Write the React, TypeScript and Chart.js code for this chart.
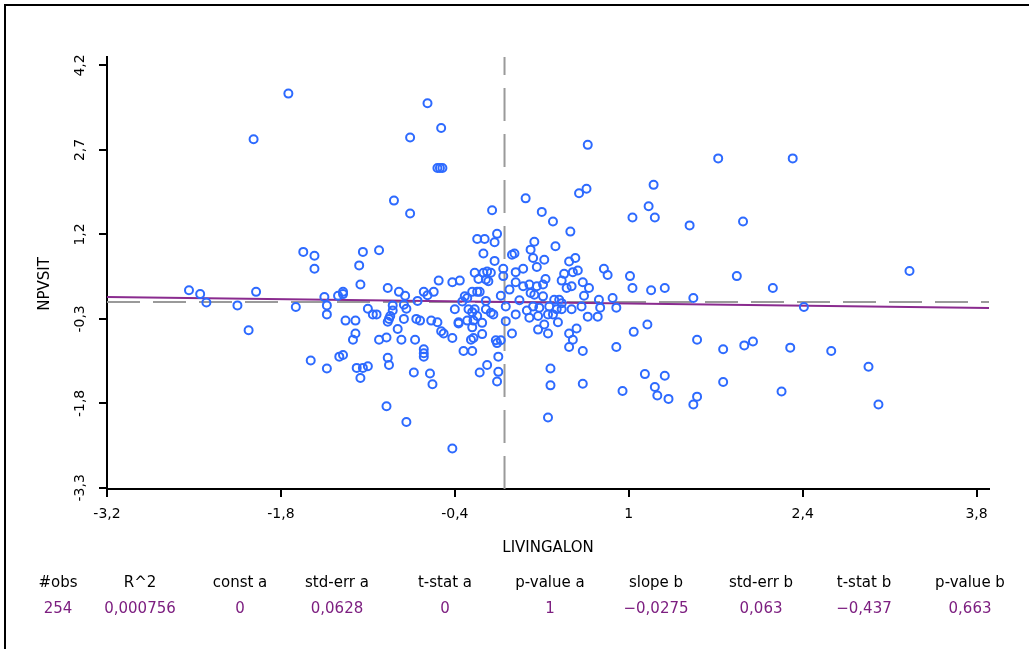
import React, { useEffect, useRef } from "react";
import { Chart, registerables } from "chart.js";

Chart.register(...registerables);

// LIVINGALON (x) and NPVSIT (y), standardized observations
const livingAlon = [
  -1.74, -2.02, -1.62, -1.53, -1.53, -0.62, -0.51, -0.76, -0.54, -0.52, -0.5, -0.89, -0.76, -0.1, 0.17, 0.3, -0.22, -0.16, -0.06, -0.08, -0.17, -0.08, 0.06, 0.08, 0.24, 0.21, 0.23, 0.26, 0.15, 0.09, -1.14, -1.17, -1.01,
  0.67, 1.72, 0.6, 0.66, 1.2, 1.16, 1.21, 1.03, 1.49, 1.92, 0.39, 0.53, 0.41, 0.32, 0.52, 0.57, 0.8, 0.83, 1.01, 1.87, 0.55, 0.59, 0.48, 2.32, 3.26,
  -2.54, -2.45, -2.4, -2.15, -2.0, -2.06, -1.68, -1.56,
  -1.16, -0.94, -0.85, -0.8, -1.3, -1.3, -1.45, -1.34, -1.43, -1.43, -1.28, -1.2, -1.2, -1.22, -1.1, -1.06, -1.03,
  -1.43, -1.33, -1.3, -1.19, -1.14, -1.1, -1.16, -0.94, -0.93, -0.95, -0.79, -0.73, -0.6, -0.58, -0.65, -0.65, -0.65, -0.42,
  -1.01, -0.95, -0.83, -0.72, -0.86, -0.94, -0.92, -0.93, -0.81, -0.9, -0.9, -0.81, -0.79, -0.7, -0.65, -0.62, -0.57, -0.53, -0.42, -0.36,
  -0.71, -0.68, -0.59, -0.54, -0.51, -0.49, -0.42, -0.4, -0.37, -0.37, -0.33, -0.26, -0.27, -0.25, -0.2, -0.14, -0.18,
  -0.32, -0.3, -0.26, -0.22, -0.2, -0.29, -0.26, -0.24, -0.3, -0.25, -0.22, -0.26, -0.18,
  -0.24, -0.17, -0.14, -0.11, -0.21, -0.15, -0.13, -0.01, -0.01, -0.15, -0.11, -0.09, -0.07, -0.03, -0.06, -0.05, -0.05, -0.06,
  0.01, 0.01, 0.06, 0.09, 0.09, 0.15,
  1.03, 1.18, 1.29, 1.52, 0.33, 0.31, 0.26, 0.46,
  0.5, 0.54, 0.63, 0.68, 0.64, 0.76, 0.87, 0.9, 0.77, 0.75, 0.67,
  0.2, 0.21, 0.24, 0.31, 0.4, 0.44, 0.46, 0.23, 0.28, 0.36, 0.42, 0.46, 0.54, 0.62,
  0.2, 0.27, 0.35, 0.39, 0.43, 0.32, 0.27, 0.35, 0.52, 0.55, 0.58, 0.52, 0.63, 0.9, 1.04, 1.15,
  0.37, 0.37, 0.35, 0.63, 0.95, 1.13, 1.29, 1.21, 1.23, 1.32, 1.55, 1.55, 1.52, 1.76, 1.76, 1.93, 2.0,
  2.16, 2.41, 2.3, 2.63, 2.93, 2.23, 3.01,
  0.04, 0.12, -0.03, 0.18, -0.15, -0.34,
];

const npvsit = [
  3.7, 2.89, 0.89, 0.82, 0.59, 3.53, 3.09, 2.92, 2.38, 2.38, 2.38, 1.8, 1.57, 1.63, 1.84, 1.6, 1.12, 1.12, 1.21, 1.06, 0.86, 0.73, 0.84, 0.86, 1.07, 0.93, 0.78, 0.62, 0.59, 0.53, 0.89, 0.65, 0.92,
  2.79, 2.55, 1.93, 2.01, 2.08, 1.7, 1.5, 1.5, 1.36, 1.43, 1.43, 1.25, 0.99, 0.75, 0.72, 0.78, 0.59, 0.48, 0.46, 0.46, 0.53, 0.56, 0.5, 2.55, 0.55,
  0.21, 0.14, -0.01, -0.06, 0.18, -0.5, -0.09, -1.04,
  0.31, 0.25, 0.18, 0.11, 0.18, 0.14, 0.09, 0.11, -0.06, -0.22, -0.33, -0.33, -0.56, -0.67, -0.12, -0.22, -0.22,
  -1.18, -0.97, -0.94, -1.17, -1.17, -1.14, -1.35, -0.99, -1.12, -1.85, -2.13, -1.25, -1.27, -1.46, -0.84, -0.91, -0.97, -2.6,
  -0.67, -0.63, -0.67, -0.67, -0.48, -0.35, -0.25, -0.3, -0.3, -0.15, -0.06, -0.05, -0.12, 0.02, 0.18, 0.12, 0.18, 0.38, 0.35, 0.38,
  -0.3, -0.33, -0.33, -0.36, -0.52, -0.56, -0.64, -0.13, -0.36, -0.38, -0.87, -0.87, -0.67, -0.64, -1.25, -1.12, -0.57,
  0.1, 0.07, 0.18, 0.18, 0.18, -0.13, -0.18, -0.13, -0.33, -0.33, -0.25, -0.45, -0.37,
  0.52, 0.52, 0.54, 0.52, 0.41, 0.4, 0.37, 0.46, 0.59, -0.13, -0.19, -0.22, -0.68, -0.68, -0.73, -0.97, -1.24, -1.41,
  -0.08, -0.34, -0.56, -0.22, 0.35, 0.28,
  0.25, 0.21, 0.25, 0.07, 0.41, 0.31, 0.28, 0.38,
  0.25, 0.28, 0.35, 0.25, 0.11, 0.04, 0.07, -0.1, -0.1, -0.26, -0.26,
  0.31, 0.16, 0.13, 0.1, 0.04, 0.04, -0.02, -0.08, -0.1, -0.08, -0.13, -0.13, -0.13, -0.08,
  -0.28, -0.25, -0.22, -0.22, -0.36, -0.4, -0.49, -0.56, -0.56, -0.67, -0.47, -0.8, -0.87, -0.8, -0.53, -0.4,
  -1.18, -1.48, -2.05, -1.45, -1.58, -1.28, -1.31, -1.51, -1.66, -1.72, -0.67, -1.68, -1.82, -0.84, -1.42, -0.77, -0.7,
  0.25, -0.09, -0.81, -0.87, -1.15, -1.59, -1.82,
  0.22, 0.03, 0.11, -0.15, 0.02, 0.01,
];

const xTicks = [-3.2, -1.8, -0.4, 1, 2.4, 3.8];
const yTicks = [-3.3, -1.8, -0.3, 1.2, 2.7, 4.2];
const xRange = [-3.2, 3.9];
const yRange = [-3.32, 4.35];

// Fitted line and means
const interceptA = 0;
const slopeB = -0.0275;
const xMean = 0;
const yMean = 0;

const statHeaders = ["#obs", "R^2", "const a", "std-err a", "t-stat a", "p-value a", "slope b", "std-err b", "t-stat b", "p-value b"];
const statValues = ["254", "0,000756", "0", "0,0628", "0", "1", "\u22120,0275", "0,063", "\u22120,437", "0,663"];
const statCenters = [58, 140, 240, 337, 445, 550, 656, 761, 864, 970];

const FONT = '"DejaVu Sans", "Liberation Sans", sans-serif';
const PURPLE = "#7d1f80";

const fmt = (v: number) => (Number.isInteger(v) ? String(v) : v.toFixed(1).replace(".", ","));

const textPlugin = {
  id: "textPlugin",
  afterDraw(chart: any) {
    const { ctx } = chart;
    const ys = chart.scales.y;
    const area = chart.chartArea;
    ctx.save();
    ctx.fillStyle = "#000";
    ctx.textAlign = "center";
    ctx.textBaseline = "middle";

    // rotated y tick labels
    ctx.font = `14px ${FONT}`;
    yTicks.forEach((v) => {
      const py = ys.getPixelForValue(v);
      ctx.save();
      ctx.translate(80, py);
      ctx.rotate(-Math.PI / 2);
      ctx.fillText(fmt(v), 0, 0);
      ctx.restore();
    });

    // axis titles
    ctx.font = `15px ${FONT}`;
    ctx.save();
    ctx.translate(45, 284);
    ctx.rotate(-Math.PI / 2);
    ctx.fillText("NPVSIT", 0, 0);
    ctx.restore();
    ctx.fillText("LIVINGALON", (area.left + area.right) / 2, 548);

    // regression statistics
    ctx.font = `15px ${FONT}`;
    statHeaders.forEach((h, i) => ctx.fillText(h, statCenters[i], 583));
    ctx.fillStyle = PURPLE;
    statValues.forEach((s, i) => ctx.fillText(s, statCenters[i], 609));
    ctx.restore();
  },
};

export default function App() {
  const canvasRef = useRef<HTMLCanvasElement | null>(null);

  useEffect(() => {
    if (!canvasRef.current) return;
    const points = livingAlon.map((x, i) => ({ x, y: npvsit[i] }));
    const fit = xRange.map((x) => ({ x, y: interceptA + slopeB * x }));

    const chart = new Chart(canvasRef.current, {
      type: "scatter",
      data: {
        datasets: [
          {
            type: "line",
            data: [
              { x: xMean, y: yRange[0] },
              { x: xMean, y: yRange[1] },
            ],
            borderColor: "#9a9a9a",
            borderWidth: 2,
            borderDash: [33, 13],
            pointRadius: 0,
            fill: false,
            order: 3,
          },
          {
            type: "line",
            data: [
              { x: xRange[0], y: yMean },
              { x: xRange[1], y: yMean },
            ],
            borderColor: "#9a9a9a",
            borderWidth: 2,
            borderDash: [33, 13],
            pointRadius: 0,
            fill: false,
            order: 3,
          },
          {
            type: "line",
            data: fit,
            borderColor: "#8a2b8f",
            borderWidth: 2,
            pointRadius: 0,
            fill: false,
            order: 2,
          },
          {
            type: "scatter",
            data: points,
            pointStyle: "circle",
            pointRadius: 4,
            borderWidth: 2,
            borderColor: "#2d6aff",
            backgroundColor: "rgba(0,0,0,0)",
            order: 1,
          },
        ],
      },
      options: {
        responsive: false,
        animation: false,
        events: [],
        devicePixelRatio: 1,
        layout: { padding: { left: 0, top: 57, right: 40, bottom: 60 } },
        plugins: { legend: { display: false }, tooltip: { enabled: false } },
        scales: {
          x: {
            type: "linear",
            min: xRange[0],
            max: xRange[1],
            afterBuildTicks: (s: any) => {
              s.ticks = xTicks.map((value) => ({ value }));
            },
            afterFit: (s: any) => {
              s.height = 100;
            },
            grid: { drawOnChartArea: false, drawTicks: true, tickLength: 8, color: "#000", lineWidth: 2 },
            border: { display: true, color: "#000", width: 2 },
            ticks: {
              color: "#000",
              font: { family: FONT, size: 14 },
              padding: 9,
              maxRotation: 0,
              autoSkip: false,
              callback: (v: any) => fmt(Number(v)),
            },
          },
          y: {
            type: "linear",
            min: yRange[0],
            max: yRange[1],
            afterBuildTicks: (s: any) => {
              s.ticks = yTicks.map((value) => ({ value }));
            },
            afterFit: (s: any) => {
              s.width = 107;
            },
            grid: { drawOnChartArea: false, drawTicks: true, tickLength: 8, color: "#000", lineWidth: 2 },
            border: { display: true, color: "#000", width: 2 },
            ticks: { display: false },
          },
        },
      },
      plugins: [textPlugin],
    });
    return () => chart.destroy();
  }, []);

  return (
    <div style={{ position: "fixed", left: 0, top: 0, width: 1029, height: 649, background: "#fff" }}>
      <div
        style={{
          position: "absolute",
          left: 4,
          top: 4,
          width: 1025,
          height: 645,
          borderLeft: "2px solid #000",
          borderTop: "2px solid #000",
          boxSizing: "border-box",
        }}
      />
      <canvas ref={canvasRef} width={1029} height={649} style={{ position: "absolute", left: 0, top: 0 }} />
    </div>
  );
}
